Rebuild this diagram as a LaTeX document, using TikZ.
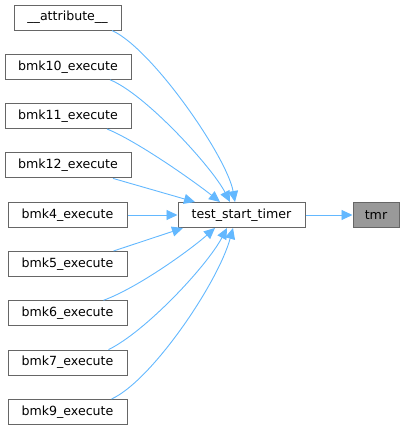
\documentclass[tikz,border=0pt]{standalone}
\usepackage{fontspec}
\setmainfont{DejaVu Sans}
\usetikzlibrary{arrows.meta}
\definecolor{edgeblue}{HTML}{63B8FF}
\definecolor{boxborder}{HTML}{666666}
\definecolor{grayfill}{HTML}{999999}
\tikzset{
  fn/.style={draw=boxborder, line width=1pt, fill=white, inner sep=0pt, minimum height=25pt, font=\fontsize{12.6}{15}\selectfont},
  edge/.style={draw=edgeblue, line width=0.9pt, -{Triangle[length=11pt,width=10pt]}, fill=none}
}
\begin{document}
\begin{tikzpicture}[x=1pt,y=-1pt]
\useasboundingbox (0,0) rectangle (404,431);
\node[fn, minimum width=107pt] (attr) at (67.5,17.5) {\_\_attribute\_\_};
\node[fn, minimum width=126pt] (b10) at (68,66.8) {bmk10\_execute};
\node[fn, minimum width=126pt] (b11) at (68,116) {bmk11\_execute};
\node[fn, minimum width=126pt] (b12) at (68,165.4) {bmk12\_execute};
\node[fn, minimum width=119pt] (b4) at (67.5,215) {bmk4\_execute};
\node[fn, minimum width=119pt] (b5) at (67.5,264) {bmk5\_execute};
\node[fn, minimum width=119pt] (b6) at (67.5,313.3) {bmk6\_execute};
\node[fn, minimum width=119pt] (b7) at (67.5,362.6) {bmk7\_execute};
\node[fn, minimum width=119pt] (b9) at (67.5,412) {bmk9\_execute};
\node[fn, minimum width=127pt] (ts) at (241.5,215) {test\_start\_timer};
\node[fn, minimum width=46pt, fill=grayfill] (tmr) at (376,215) {tmr};

\draw[edge] ([xshift=44.5pt]attr.south) .. controls +(40,18) and +(-8,-45) .. ([xshift=-6.5pt]ts.north);
\draw[edge] ([xshift=42pt]b10.south) .. controls +(35,14) and +(-18,-35) .. ([xshift=-11.5pt]ts.north);
\draw[edge] ([xshift=39pt]b11.south) .. controls +(30,12) and +(-25,-20) .. ([xshift=-21.5pt]ts.north);
\draw[edge] ([xshift=45pt]b12.south) -- ([xshift=-46.5pt]ts.north);
\draw[edge] (b4.east) -- (ts.west);
\draw[edge] ([xshift=46pt]b5.north) -- ([xshift=-58.5pt]ts.south);
\draw[edge] ([xshift=36pt]b6.north) .. controls +(35,-13) and +(-25,22) .. ([xshift=-26.5pt]ts.south);
\draw[edge] ([xshift=41pt]b7.north) .. controls +(37,-18) and +(-20,38) .. ([xshift=-14.5pt]ts.south);
\draw[edge] ([xshift=44pt]b9.north) .. controls +(40,-18) and +(-15,55) .. ([xshift=-8.5pt]ts.south);
\draw[edge] (ts.east) -- (tmr.west);
\end{tikzpicture}
\end{document}
